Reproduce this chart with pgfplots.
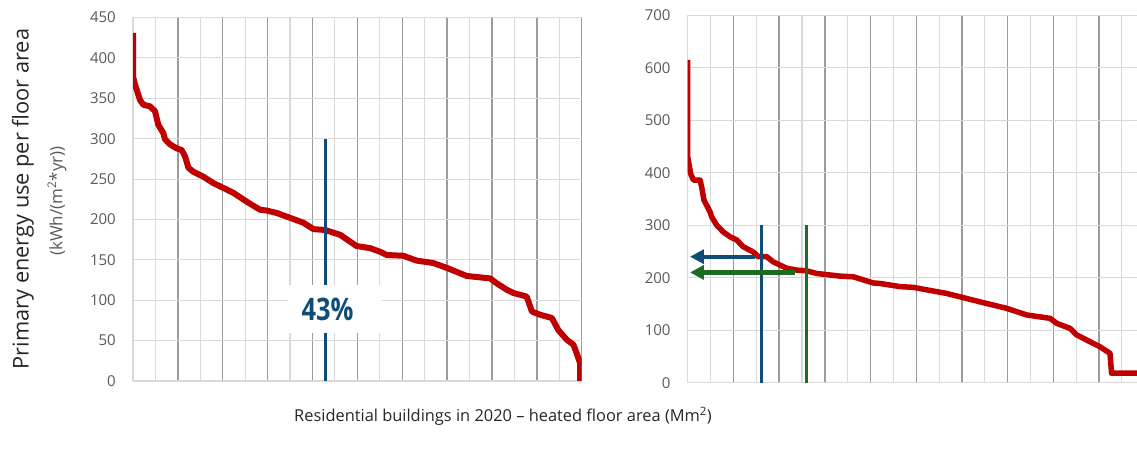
\documentclass[border=0pt]{standalone}
\usepackage{pgfplots}
\pgfplotsset{compat=1.18}
\usepackage{fontspec}
\setmainfont{Open Sans}
\usetikzlibrary{arrows.meta}
\definecolor{redline}{RGB}{192,0,0}
\definecolor{annblue}{RGB}{16,76,120}
\definecolor{anngreen}{RGB}{30,108,36}
\definecolor{tickgray}{RGB}{89,89,89}
\definecolor{labeldark}{RGB}{38,38,38}
\definecolor{gridlight}{RGB}{217,217,217}
\definecolor{griddark}{RGB}{155,155,155}
\pgfplotsset{
  mystyle/.style={
    scale only axis, anchor=south west,
    xmin=0, xmax=20,
    xtick={2,4,...,20},
    minor xtick={0,1,3,5,7,9,11,13,15,17,19},
    xticklabels={},
    xmajorgrids, xminorgrids, ymajorgrids,
    major x grid style={griddark, line width=1.4pt},
    minor x grid style={gridlight, line width=1.1pt},
    major y grid style={gridlight, line width=1.1pt},
    axis line style={draw=none},
    tick style={draw=none},
    /pgf/number format/assume math mode=true,
    yticklabel style={font=\fontsize{15}{18}\selectfont, text=tickgray, anchor=east, inner sep=0pt, xshift=-17pt},
  }
}
\begin{document}
\begin{tikzpicture}
\path[use as bounding box] (0pt,0pt) rectangle (1137pt,452pt);
% Left chart
\begin{axis}[mystyle, at={(133pt,71pt)}, width=448.7pt, height=363.5pt,
  ymin=0, ymax=450, ytick={0,50,...,450}]
\addplot[redline, line width=6pt, line join=round] coordinates {
(0,431) (0.0,377) (0.09,367) (0.31,348) (0.46,342) (0.76,340) (0.98,334) (1.13,317) (1.35,307) (1.43,299) (1.65,293) (1.95,288) (2.17,286) (2.32,278) (2.47,264) (2.69,259) (3.13,253) (3.58,245) (4.03,239) (4.47,233) (5.07,222) (5.66,212) (5.96,211) (6.41,208) (7.0,202) (7.59,196) (8.04,188) (8.56,187) (8.78,185) (9.23,181) (9.97,167) (10.57,164.5) (11.01,160) (11.31,156) (12.05,155) (12.65,149) (13.39,146) (13.99,140) (14.88,130) (15.92,127) (16.21,121) (16.66,113) (16.95,109) (17.55,104.5) (17.78,86) (18.15,82) (18.67,78) (18.96,63) (19.34,51) (19.63,45) (19.78,34) (19.93,22) (19.93,0)
};
\draw[annblue, line width=3pt] (axis cs:8.56,0) -- (axis cs:8.56,300);
\fill[white] (axis cs:6.91,59.5) rectangle (axis cs:11.09,119);
\node[text=annblue, font=\fontsize{31}{34}\selectfont\bfseries, inner sep=0pt, xscale=0.82] at (axis cs:8.67,88) {43\%};
\end{axis}
% Right chart
\begin{axis}[mystyle, at={(687.7pt,69.3pt)}, width=457pt, height=367.5pt,
  ymin=0, ymax=700, ytick={0,100,...,700}]
\addplot[redline, line width=5.5pt, line join=round] coordinates {
(0.0,615) (0.0,430) (0.13,398) (0.25,386) (0.54,386) (0.61,373) (0.71,348) (0.83,338) (0.98,325) (1.05,316) (1.27,300) (1.56,287) (1.85,278) (2.14,272) (2.43,259) (2.87,249) (3.09,240) (3.46,240) (3.75,230) (4.33,218) (4.77,214.5) (5.21,213) (5.65,208) (6.67,203) (7.25,201.7) (8.12,190) (8.42,189) (9.29,183) (9.87,181.6) (11.33,170) (12.79,154) (13.96,141.6) (14.84,129) (15.86,122.6) (16.15,113) (16.73,103.5) (17.02,91) (17.61,78) (18.04,68.5) (18.48,56) (18.55,18) (20,18)
};
\draw[annblue, line width=3pt] (axis cs:3.21,0) -- (axis cs:3.21,300);
\draw[anngreen, line width=3pt] (axis cs:5.21,0) -- (axis cs:5.21,300);
\draw[annblue, line width=3.8pt, -{Triangle[length=14pt,width=14pt]}] (axis cs:2.95,240) -- (axis cs:0.1,240);
\draw[anngreen, line width=4.2pt, -{Triangle[length=14pt,width=14pt]}] (axis cs:4.7,210) -- (axis cs:0.1,210);
\end{axis}
% Labels
\node[rotate=90, text=labeldark, font=\fontsize{21.75}{24}\selectfont] at (23pt,253pt) {Primary energy use per floor area};
\node[rotate=90, text=tickgray, font=\fontsize{17}{20}\selectfont] at (57pt,251pt) {(kWh/(m\textsuperscript{2}*yr))};
\node[text=labeldark, font=\fontsize{16.4}{19}\selectfont] at (503pt,36pt) {Residential buildings in 2020 – heated floor area (Mm\textsuperscript{2})};
\end{tikzpicture}
\end{document}
